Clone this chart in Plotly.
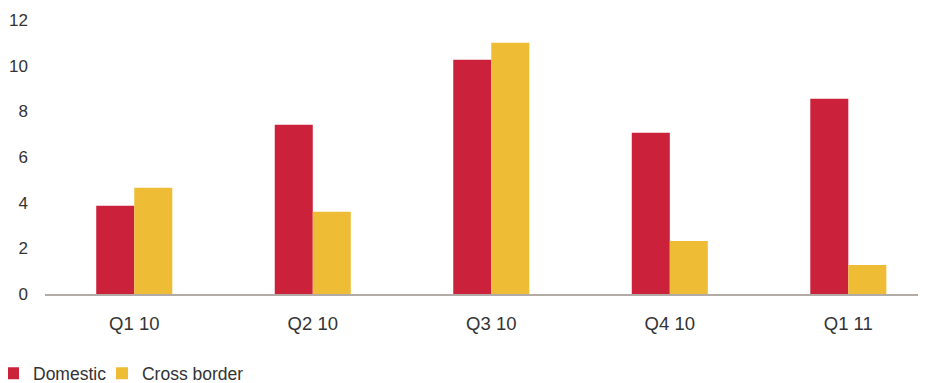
import plotly.graph_objects as go

categories = ["Q1 10", "Q2 10", "Q3 10", "Q4 10", "Q1 11"]
domestic = [3.86, 7.41, 10.26, 7.06, 8.55]
cross_border = [4.65, 3.6, 11.0, 2.32, 1.27]
y_ticks = [0, 2, 4, 6, 8, 10, 12]

fig = go.Figure()
fig.add_trace(go.Bar(name="Domestic", x=categories, y=domestic, marker_color="#CC213B",
                     marker_line_width=0, legend="legend"))
fig.add_trace(go.Bar(name="Cross border", x=categories, y=cross_border, marker_color="#EFBC36",
                     marker_line_width=0, legend="legend2"))

legend_common = dict(orientation="h", xref="paper", yref="paper", y=-0.355,
                     xanchor="left", yanchor="bottom", font=dict(size=17.5), itemwidth=30,
                     bgcolor="rgba(0,0,0,0)")

fig.update_layout(
    width=926, height=383,
    margin=dict(l=37, r=0, t=12, b=97, autoexpand=False),
    barmode="group", bargap=0.574, bargroupgap=0,
    plot_bgcolor="white", paper_bgcolor="white",
    font=dict(family="Liberation Sans, Arial, sans-serif", size=17, color="#333333"),
    xaxis=dict(range=[-0.5, 4.48], showgrid=False, showline=True, linecolor="#B3ABA5", linewidth=2,
               ticks="", ticklabelstandoff=12, automargin=False, tickfont=dict(size=18.5)),
    yaxis=dict(range=[0, 12], tickvals=y_ticks, showgrid=False, zeroline=False, showline=False,
               ticks="", ticklabelstandoff=16, automargin=False, tickfont=dict(size=17)),
    legend=dict(x=-0.0585, **legend_common),
    legend2=dict(x=0.0641, **legend_common),
    showlegend=True,
)

fig.write_html("out.html")
